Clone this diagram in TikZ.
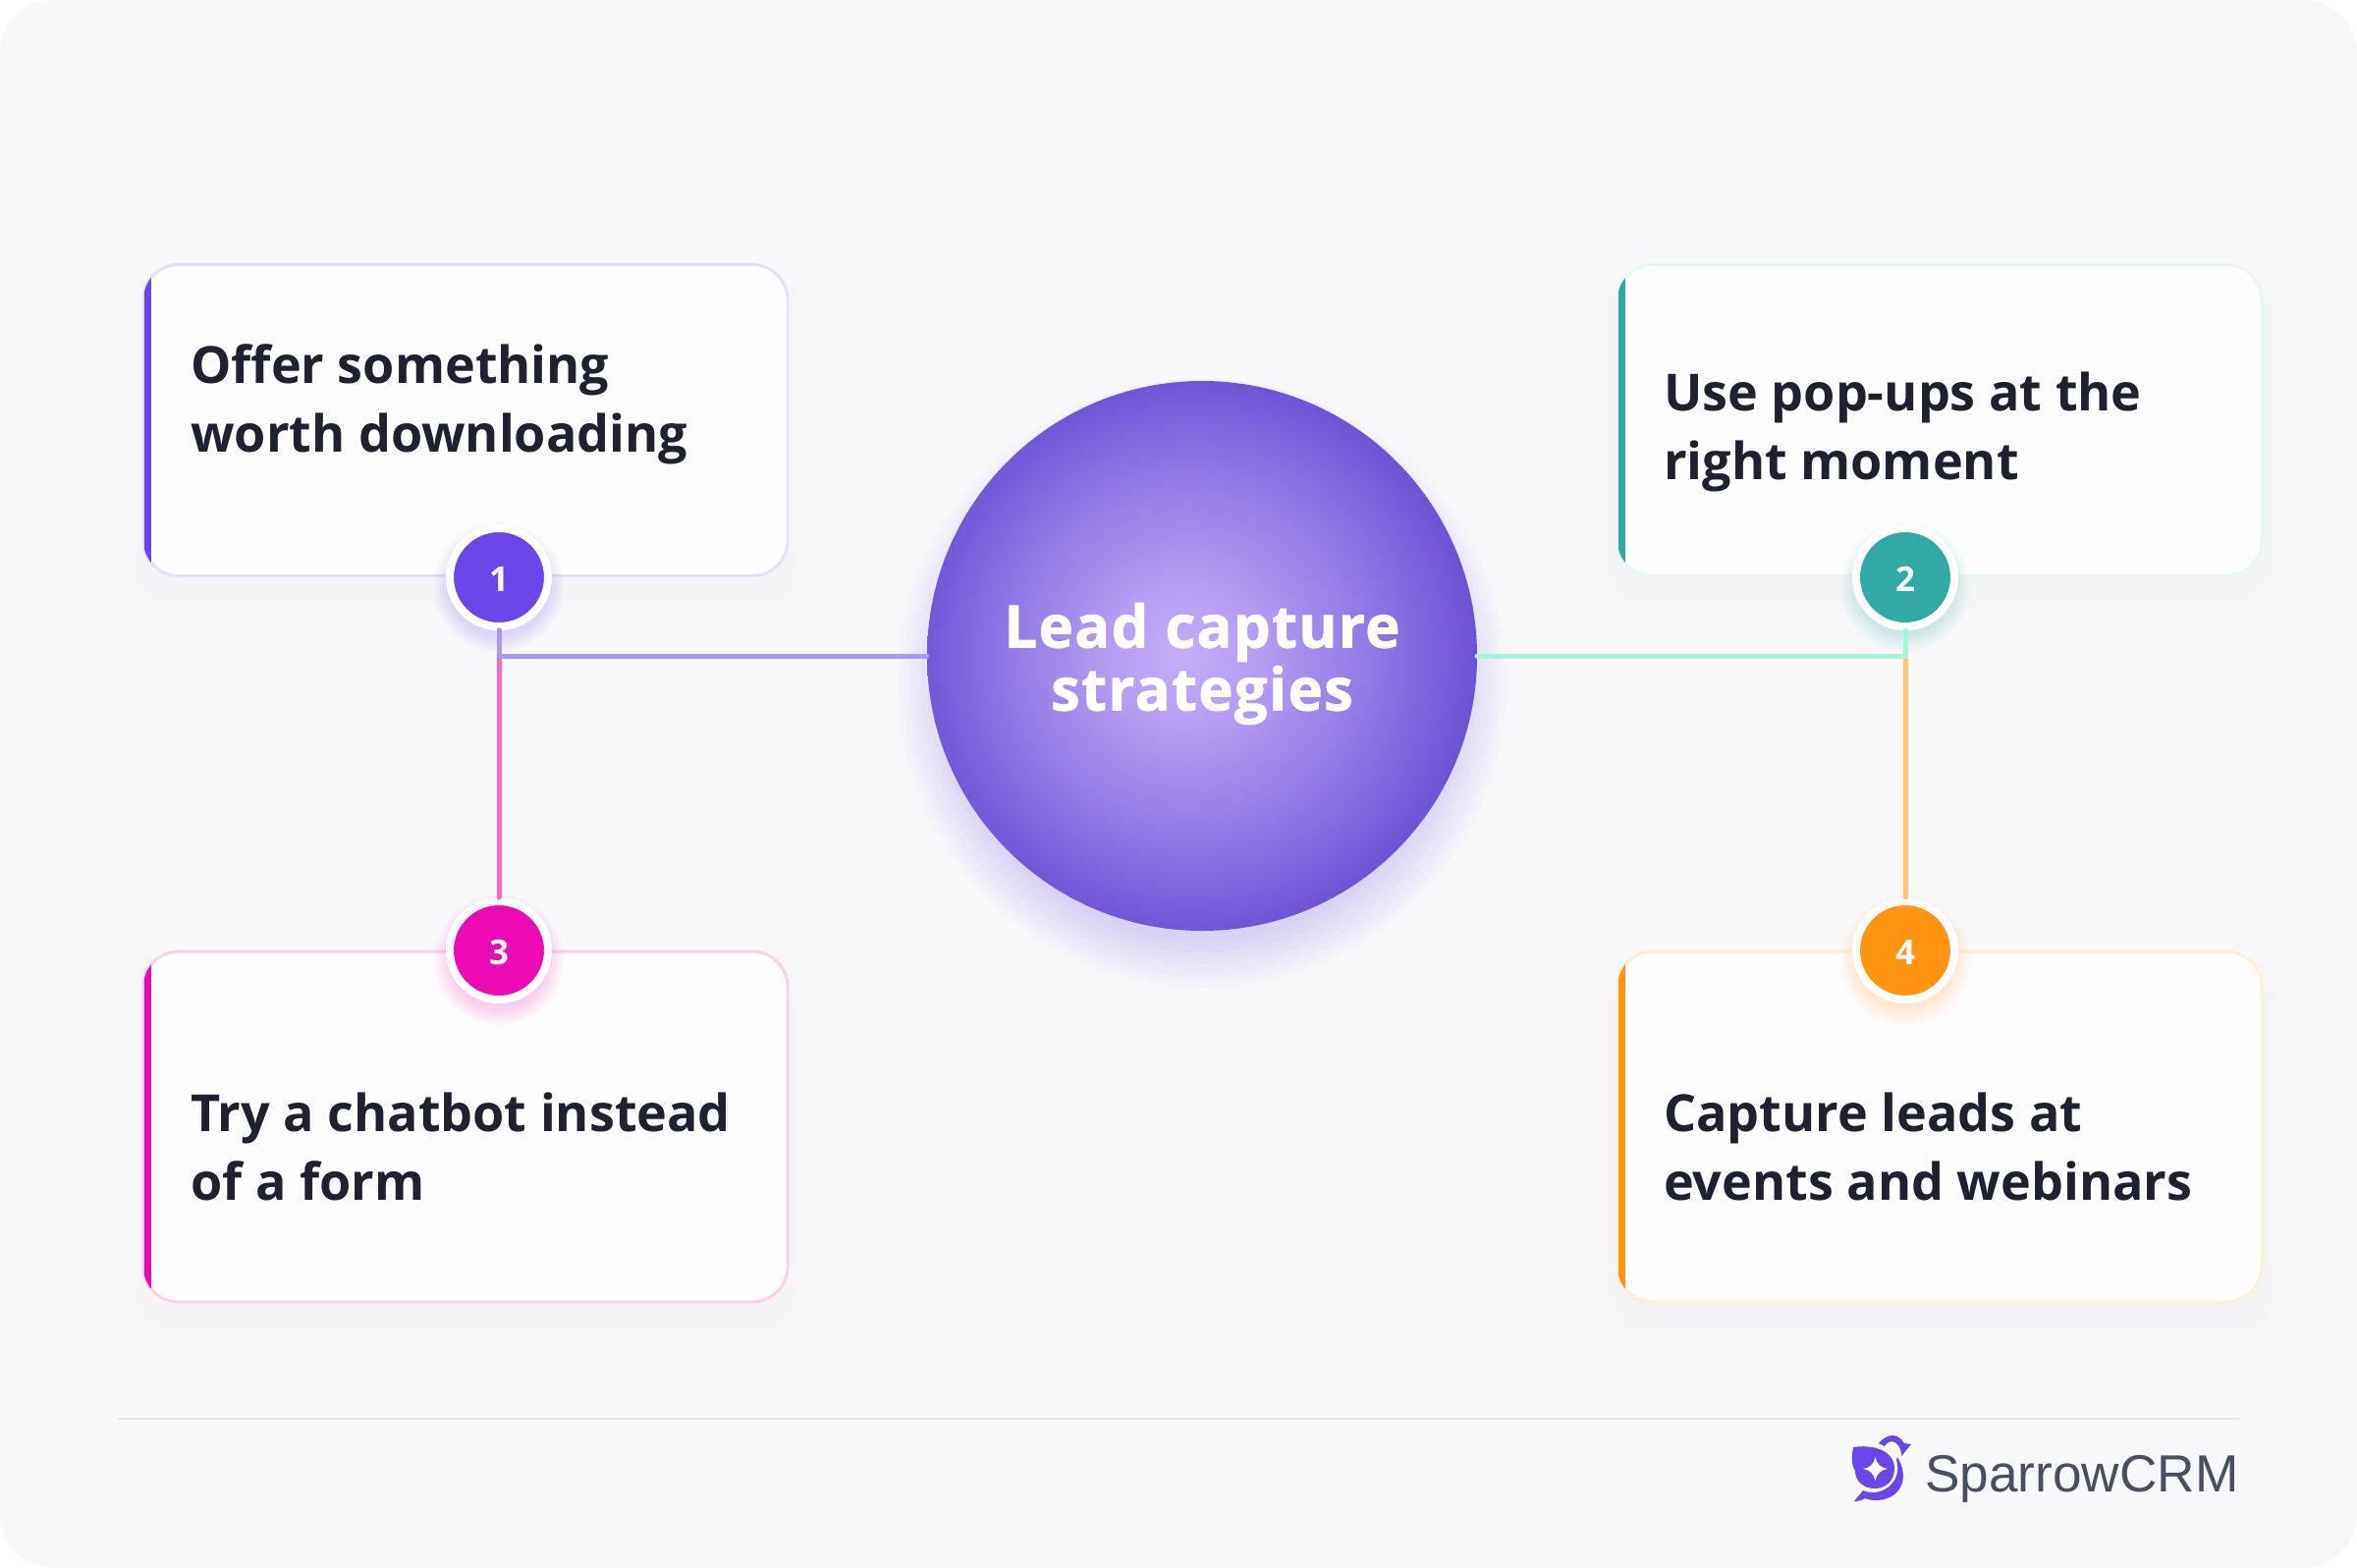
\documentclass[tikz,border=0pt]{standalone}
\usepackage{fontspec}
\setmainfont{Open Sans}
\newfontfamily\heavyfont[BoldFeatures={FakeBold=1.2,LetterSpace=2}]{Open Sans}
\newfontfamily\logofont{Liberation Sans}
\usetikzlibrary{backgrounds}

\definecolor{pagebg}{HTML}{F8F8FB}
\definecolor{cardbg}{HTML}{FDFDFD}
\definecolor{ink}{HTML}{1E2130}
\definecolor{violetc}{HTML}{6A46E8}
\definecolor{violetl}{HTML}{AB95F5}
\definecolor{violete}{HTML}{E6DEFD}
\definecolor{tealc}{HTML}{30A9A4}
\definecolor{teall}{HTML}{A5F5D6}
\definecolor{teale}{HTML}{E2FBEC}
\definecolor{pinkc}{HTML}{EC09B4}
\definecolor{pinkl}{HTML}{F868BE}
\definecolor{pinke}{HTML}{FFCFE8}
\definecolor{orangec}{HTML}{FF9410}
\definecolor{orangel}{HTML}{FFC76A}
\definecolor{orangee}{HTML}{FFEFCF}
\definecolor{rulec}{HTML}{E8E8EE}
\definecolor{logoc}{HTML}{475060}
\definecolor{hubA}{HTML}{C4ADF8}
\definecolor{hubB}{HTML}{B49CF2}
\definecolor{hubC}{HTML}{9A82E9}
\definecolor{hubD}{HTML}{7A60DC}
\definecolor{hubE}{HTML}{664AD1}

\pgfdeclareradialshading{hubshade}{\pgfpoint{-2bp}{0bp}}{%
  color(0bp)=(hubA);
  color(7bp)=(hubB);
  color(14bp)=(hubC);
  color(22.5bp)=(hubD);
  color(27.5bp)=(hubE);
  color(38bp)=(hubE)}

\newcommand{\dotglow}[2]{%
  \foreach \i in {1,...,6}
    \fill[#2,opacity=.03] ([yshift=-10pt]#1) circle ({48+\i*3});}

\begin{document}
\begin{tikzpicture}[x=1pt,y=-1pt,
    card/.style={draw,line width=3pt,fill=cardbg,rounded corners=36pt,inner sep=0pt,outer sep=0pt,minimum width=656pt},
    cardtext/.style={anchor=base west,align=left,text=ink,font=\bfseries\fontsize{52.1}{70}\selectfont,inner sep=0pt},
    badge/.style={circle,draw=white,line width=8pt,minimum size=100pt,inner sep=0pt,outer sep=4pt,text=white,text height=28pt,text depth=0pt,font=\bfseries\fontsize{35}{35}\selectfont},
    wire/.style={line width=5pt,line cap=round}]

  \useasboundingbox (0,0) rectangle (2400,1596);

  \node[card,draw=violete,minimum height=317pt] (1) at (474,428) {};
  \node[card,draw=teale,minimum height=317pt] (2) [right of=1,node distance=1501pt] {};
  \node[card,draw=pinke,minimum height=357pt] (3) [below of=1,node distance=719.5pt] {};
  \node[card,draw=orangee,minimum height=357pt] (4) [below of=2,node distance=719.5pt] {};

  \foreach \n/\c in {1/violetc,2/tealc,3/pinkc,4/orangec}{
    \begin{scope}
      \clip[rounded corners=36pt] (\n.north west) rectangle (\n.south east);
      \fill[\c] ([xshift=.5pt]\n.north west) rectangle ([xshift=7.5pt]\n.south west);
    \end{scope}
  }

  \node[cardtext] (t1) at (194,460) {Offer something\\worth downloading};
  \node[cardtext] (t2) at (1694,488) {Use pop-ups at the\\right moment};
  \node[cardtext] (t3) at (194,1222) {Try a chatbot instead\\of a form};
  \node[cardtext] (t4) at (1694,1222) {Capture leads at\\events and webinars};

  \coordinate (c1) at (508,588);
  \coordinate (c2) at (1940,588);
  \coordinate (c3) at (508,968);
  \coordinate (c4) at (1940,968);
  \dotglow{c1}{violetc}
  \dotglow{c2}{tealc}
  \dotglow{c3}{pinkc}
  \dotglow{c4}{orangec}

  \node[circle,shading=hubshade,minimum size=560pt,inner sep=0pt,outer sep=0pt] (5) at (1224,668) {};
  \node[align=center,text=white,inner sep=0pt,font=\heavyfont\bfseries\fontsize{60}{64}\selectfont] (6) [below of=5,node distance=8pt] {Lead capture\\strategies};

  \node[badge,fill=violetc] (n1) at (c1) {1};
  \node[badge,fill=tealc] (n2) at (c2) {2};
  \node[badge,fill=pinkc] (n3) at (c3) {3};
  \node[badge,fill=orangec] (n4) at (c4) {4};

  \draw[wire,pinkl] (n1) -- (n3);
  \draw[wire,orangel] (n2) -- (n4);
  \draw[wire,violetl] (5) -| (n1);
  \draw[wire,teall] (5) -| (n2);

  \begin{scope}[on background layer]
    \fill[white] (0,0) rectangle (2400,1596);
    \fill[pagebg,rounded corners=55pt] (0,0) rectangle (2400,1596);
    \foreach \n in {1,2,3,4}
      \foreach \i in {1,...,4}
        \fill[black,opacity=.005,rounded corners={36+\i*5}]
          ([shift={({-\i*5},{-\i*5+20})}]\n.north west) rectangle ([shift={({\i*5},{\i*5+20})}]\n.south east);
    \foreach \i in {1,...,9}
      \fill[violetc,opacity=.025] ([yshift=-28pt]5.center) circle ({256+\i*6});
  \end{scope}

  \draw[rulec,line width=2pt] (120,1445) -- (2280,1445);

  % logo
  \fill[violetc] (1887,1474) .. controls (1905,1471) and (1929,1476) .. (1929,1496)
    .. controls (1929,1508) and (1920,1516) .. (1909,1516)
    .. controls (1898,1516) and (1889,1509) .. (1889,1498)
    .. controls (1884,1490) and (1886,1481) .. (1887,1474) -- cycle;
  \fill[white] (1909.5,1484) .. controls (1911,1491) and (1915,1495) .. (1922,1496)
    .. controls (1915,1497) and (1911,1501) .. (1909.5,1508)
    .. controls (1908,1501) and (1904,1497) .. (1897,1496)
    .. controls (1904,1495) and (1908,1491) .. (1909.5,1484) -- cycle;
  \fill[violetc] (1932,1484) .. controls (1945,1505) and (1936,1528) .. (1909,1528)
    .. controls (1905,1528) and (1902,1527) .. (1899,1526)
    .. controls (1896,1528) and (1892,1529) .. (1888,1529) -- (1897,1518)
    .. controls (1915,1526) and (1938,1510) .. (1931,1487) -- cycle;
  \fill[violetc] (1913,1470) .. controls (1917,1465) and (1922,1462) .. (1927,1462)
    .. controls (1932,1462) and (1936,1465) .. (1939,1470) -- (1946,1471) -- (1936,1483)
    .. controls (1936,1475) and (1932,1468) .. (1926,1468)
    .. controls (1923,1468) and (1921,1470) .. (1919,1473) -- cycle;

  \node[anchor=base west,inner sep=0pt,text=logoc,font=\logofont\fontsize{53.2}{55}\selectfont] (l) at (1960,1519) {SparrowCRM};

\end{tikzpicture}
\end{document}
